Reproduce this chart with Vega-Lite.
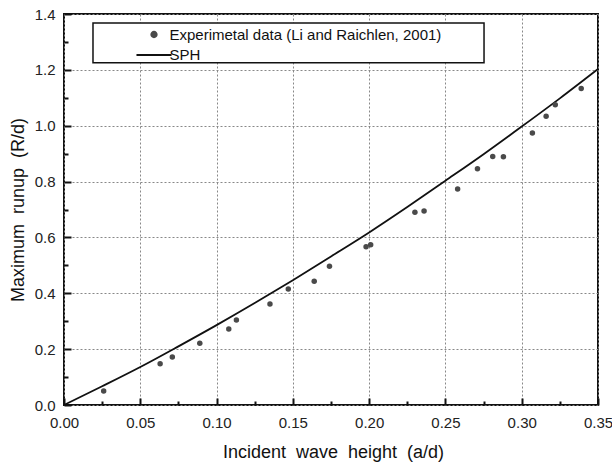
{
  "$schema": "https://vega.github.io/schema/vega-lite/v6.json",
  "width": 534,
  "height": 391,
  "autosize": {"type": "none"},
  "padding": {"left": 64, "top": 14, "right": 14, "bottom": 59},
  "background": "white",
  "config": {
    "font": "Liberation Sans",
    "view": {"stroke": "#111", "strokeWidth": 2},
    "axis": {
      "ticks": true,
      "tickWidth": 2,
      "tickColor": "#111",
      "gridColor": "#888",
      "gridWidth": 1,
      "gridDash": [2, 2],
      "domain": false,
      "labelFontSize": 15,
      "labelColor": "#222",
      "labelFlush": false,
      "labelOverlap": false,
      "titleFontSize": 18,
      "titleFontWeight": "normal",
      "titleColor": "#111",
      "titleAlign": "center",
      "titleBaseline": "middle"
    }
  },
  "datasets": {
    "experiment": [
      {"a_d": 0.026, "R_d": 0.050, "series": "Experimetal data (Li and Raichlen, 2001)"},
      {"a_d": 0.063, "R_d": 0.148, "series": "Experimetal data (Li and Raichlen, 2001)"},
      {"a_d": 0.071, "R_d": 0.172, "series": "Experimetal data (Li and Raichlen, 2001)"},
      {"a_d": 0.089, "R_d": 0.221, "series": "Experimetal data (Li and Raichlen, 2001)"},
      {"a_d": 0.108, "R_d": 0.272, "series": "Experimetal data (Li and Raichlen, 2001)"},
      {"a_d": 0.113, "R_d": 0.304, "series": "Experimetal data (Li and Raichlen, 2001)"},
      {"a_d": 0.135, "R_d": 0.362, "series": "Experimetal data (Li and Raichlen, 2001)"},
      {"a_d": 0.147, "R_d": 0.415, "series": "Experimetal data (Li and Raichlen, 2001)"},
      {"a_d": 0.164, "R_d": 0.443, "series": "Experimetal data (Li and Raichlen, 2001)"},
      {"a_d": 0.174, "R_d": 0.497, "series": "Experimetal data (Li and Raichlen, 2001)"},
      {"a_d": 0.198, "R_d": 0.567, "series": "Experimetal data (Li and Raichlen, 2001)"},
      {"a_d": 0.201, "R_d": 0.574, "series": "Experimetal data (Li and Raichlen, 2001)"},
      {"a_d": 0.230, "R_d": 0.690, "series": "Experimetal data (Li and Raichlen, 2001)"},
      {"a_d": 0.236, "R_d": 0.695, "series": "Experimetal data (Li and Raichlen, 2001)"},
      {"a_d": 0.258, "R_d": 0.773, "series": "Experimetal data (Li and Raichlen, 2001)"},
      {"a_d": 0.271, "R_d": 0.846, "series": "Experimetal data (Li and Raichlen, 2001)"},
      {"a_d": 0.281, "R_d": 0.890, "series": "Experimetal data (Li and Raichlen, 2001)"},
      {"a_d": 0.288, "R_d": 0.889, "series": "Experimetal data (Li and Raichlen, 2001)"},
      {"a_d": 0.307, "R_d": 0.974, "series": "Experimetal data (Li and Raichlen, 2001)"},
      {"a_d": 0.316, "R_d": 1.034, "series": "Experimetal data (Li and Raichlen, 2001)"},
      {"a_d": 0.322, "R_d": 1.075, "series": "Experimetal data (Li and Raichlen, 2001)"},
      {"a_d": 0.339, "R_d": 1.133, "series": "Experimetal data (Li and Raichlen, 2001)"}
    ],
    "sph": [
      {"a_d": 0.000, "R_d": 0.000, "series": "SPH"},
      {"a_d": 0.025, "R_d": 0.067, "series": "SPH"},
      {"a_d": 0.050, "R_d": 0.136, "series": "SPH"},
      {"a_d": 0.075, "R_d": 0.210, "series": "SPH"},
      {"a_d": 0.100, "R_d": 0.286, "series": "SPH"},
      {"a_d": 0.125, "R_d": 0.365, "series": "SPH"},
      {"a_d": 0.150, "R_d": 0.447, "series": "SPH"},
      {"a_d": 0.175, "R_d": 0.532, "series": "SPH"},
      {"a_d": 0.200, "R_d": 0.618, "series": "SPH"},
      {"a_d": 0.225, "R_d": 0.709, "series": "SPH"},
      {"a_d": 0.250, "R_d": 0.803, "series": "SPH"},
      {"a_d": 0.275, "R_d": 0.898, "series": "SPH"},
      {"a_d": 0.300, "R_d": 0.997, "series": "SPH"},
      {"a_d": 0.325, "R_d": 1.098, "series": "SPH"},
      {"a_d": 0.350, "R_d": 1.203, "series": "SPH"}
    ]
  },
  "layer": [
    {
      "data": {"name": "sph"},
      "mark": {"type": "line", "strokeWidth": 1.8, "interpolate": "monotone"},
      "encoding": {
        "x": {
          "field": "a_d",
          "type": "quantitative",
          "scale": {"domain": [0, 0.35], "nice": false, "zero": false},
          "axis": {
            "orient": "bottom",
            "title": "Incident\u00a0 wave\u00a0 height\u00a0 (a/d)",
            "values": [0, 0.05, 0.1, 0.15, 0.2, 0.25, 0.3, 0.35],
            "format": ".2f",
            "tickSize": -7,
            "grid": true,
            "labelPadding": 17,
            "titleX": 269,
            "titleY": 47
          }
        },
        "y": {
          "field": "R_d",
          "type": "quantitative",
          "scale": {"domain": [0, 1.4], "nice": false, "zero": false},
          "axis": {
            "orient": "left",
            "title": "Maximum\u00a0 runup\u00a0 (R/d)",
            "values": [0, 0.2, 0.4, 0.6, 0.8, 1.0, 1.2, 1.4],
            "format": ".1f",
            "tickSize": -7,
            "grid": true,
            "labelPadding": 16,
            "titleX": -46,
            "titleY": 195.5,
            "titleAngle": -90
          }
        },
        "color": {
          "field": "series",
          "type": "nominal",
          "scale": {
            "domain": ["Experimetal data (Li and Raichlen, 2001)", "SPH"],
            "range": ["#4a4a4a", "#111111"]
          },
          "legend": {
            "title": null,
            "orient": "none",
            "legendX": 29,
            "legendY": 10,
            "padding": 3,
            "rowPadding": 4.5,
            "symbolOffset": 50.5,
            "labelOffset": 8,
            "symbolSize": 30,
            "labelFontSize": 15,
            "labelColor": "#111",
            "labelLimit": 400,
            "strokeColor": null,
            "fillColor": null,
            "encode": {
              "symbols": {
                "update": {
                  "shape": {"signal": "datum.value === 'SPH' ? 'M-6.4,0L6.4,0' : 'circle'"},
                  "fill": {"signal": "datum.value === 'SPH' ? 'transparent' : '#4a4a4a'"},
                  "stroke": {"signal": "datum.value === 'SPH' ? '#111' : 'transparent'"},
                  "strokeWidth": {"value": 1.8},
                  "opacity": {"value": 1}
                }
              }
            }
          }
        }
      }
    },
    {
      "data": {"name": "experiment"},
      "mark": {"type": "point", "filled": true, "size": 30, "opacity": 1},
      "encoding": {
        "x": {
          "field": "a_d",
          "type": "quantitative",
          "axis": {
            "orient": "bottom",
            "title": null,
            "values": [0.025, 0.075, 0.125, 0.175, 0.225, 0.275, 0.325],
            "labels": false,
            "grid": false,
            "tickSize": -4
          }
        },
        "y": {
          "field": "R_d",
          "type": "quantitative",
          "axis": {
            "orient": "left",
            "title": null,
            "values": [0.1, 0.3, 0.5, 0.7, 0.9, 1.1, 1.3],
            "labels": false,
            "grid": false,
            "tickSize": -4
          }
        },
        "color": {"field": "series", "type": "nominal"}
      }
    },
    {
      "data": {"values": [{"panel": "legend frame"}]},
      "mark": {"type": "rect", "fill": "white", "stroke": "#111", "strokeWidth": 1.5},
      "encoding": {
        "x": {"datum": 0.019, "type": "quantitative", "axis": null},
        "x2": {"datum": 0.2753},
        "y": {"datum": 1.368, "type": "quantitative", "axis": null},
        "y2": {"datum": 1.2256}
      }
    }
  ],
  "resolve": {"axis": {"x": "independent", "y": "independent"}}
}
